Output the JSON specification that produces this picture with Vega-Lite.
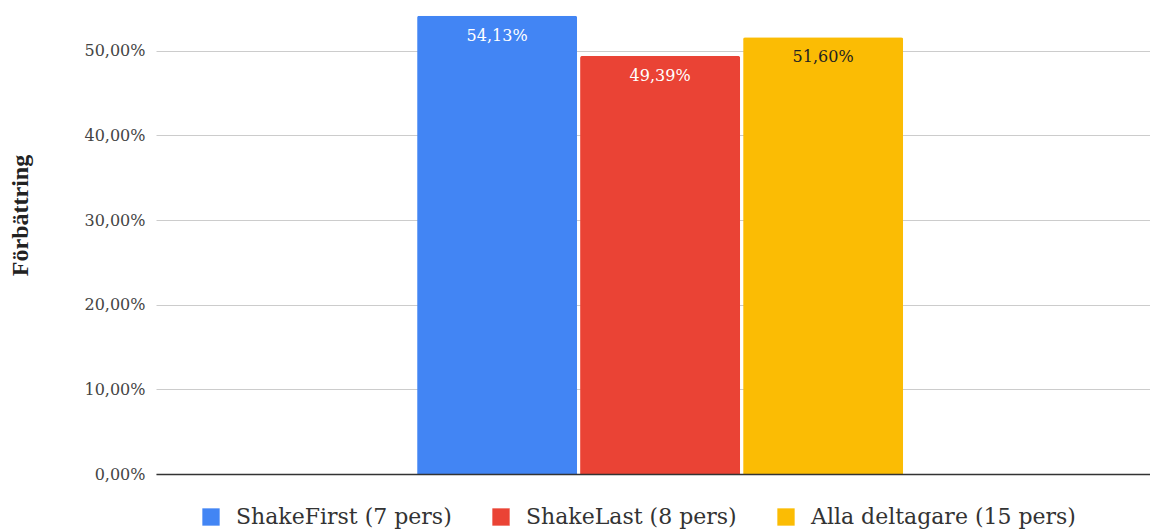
{
  "$schema": "https://vega.github.io/schema/vega-lite/v6.json",
  "width": 994,
  "height": 474,
  "autosize": {"type": "none"},
  "padding": {"left": 156, "top": 0, "right": 0, "bottom": 55},
  "background": "white",
  "config": {
    "locale": {
      "number": {"decimal": ",", "thousands": "\u00a0", "grouping": [3], "currency": ["", "\u00a0kr"]}
    },
    "view": {"stroke": null},
    "font": "DejaVu Serif"
  },
  "data": {
    "values": [
      {"kategori": "Förbättring", "grupp": "ShakeFirst (7 pers)", "forbattring": 0.5413},
      {"kategori": "Förbättring", "grupp": "ShakeLast (8 pers)", "forbattring": 0.4939},
      {"kategori": "Förbättring", "grupp": "Alla deltagare (15 pers)", "forbattring": 0.516}
    ]
  },
  "encoding": {
    "x": {
      "field": "kategori",
      "type": "nominal",
      "scale": {"paddingInner": 0, "paddingOuter": 0.5226, "align": 0.514},
      "axis": {"labels": false, "ticks": false, "title": null, "grid": false, "domain": true, "domainColor": "#333333", "domainWidth": 1.5, "zindex": 1}
    },
    "xOffset": {
      "field": "grupp",
      "type": "nominal",
      "sort": ["ShakeFirst (7 pers)", "ShakeLast (8 pers)", "Alla deltagare (15 pers)"],
      "scale": {"paddingInner": 0.0184, "paddingOuter": 0}
    },
    "y": {
      "field": "forbattring",
      "type": "quantitative",
      "scale": {"domain": [0, 0.56], "nice": false},
      "axis": {
        "values": [0, 0.1, 0.2, 0.3, 0.4, 0.5],
        "format": ".2%",
        "labelFont": "DejaVu Serif",
        "labelFontSize": 16,
        "labelColor": "#444444",
        "labelPadding": 11,
        "ticks": false,
        "domain": false,
        "gridColor": "#cccccc",
        "gridWidth": 1,
        "title": "Förbättring",
        "titleFont": "Liberation Serif",
        "titleFontSize": 24,
        "titleFontWeight": "bold",
        "titleColor": "#222222",
        "titleAngle": -90,
        "titleX": -136,
        "titleY": 215,
        "titleAlign": "center",
        "titleBaseline": "middle"
      }
    }
  },
  "layer": [
    {
      "mark": {"type": "bar", "cornerRadiusTopLeft": 2, "cornerRadiusTopRight": 2},
      "encoding": {
        "color": {
          "field": "grupp",
          "type": "nominal",
          "sort": ["ShakeFirst (7 pers)", "ShakeLast (8 pers)", "Alla deltagare (15 pers)"],
          "scale": {
            "domain": ["ShakeFirst (7 pers)", "ShakeLast (8 pers)", "Alla deltagare (15 pers)"],
            "range": ["#4285F4", "#EA4335", "#FBBC04"]
          },
          "legend": {
            "orient": "none",
            "legendX": 44,
            "legendY": 506,
            "direction": "horizontal",
            "title": null,
            "symbolType": "square",
            "symbolSize": 300,
            "symbolStrokeWidth": 0,
            "symbolOpacity": 1,
            "labelFont": "DejaVu Serif",
            "labelFontSize": 22,
            "labelLimit": 600,
            "labelColor": "#333333",
            "labelOffset": 14,
            "columnPadding": 38
          }
        }
      }
    },
    {
      "mark": {"type": "text", "baseline": "middle", "align": "center", "dy": 20, "fontSize": 16, "font": "DejaVu Serif"},
      "encoding": {
        "text": {"field": "forbattring", "type": "quantitative", "format": ".2%"},
        "color": {
          "condition": {"test": "datum.grupp === 'Alla deltagare (15 pers)'", "value": "#222222"},
          "value": "#ffffff"
        }
      }
    }
  ]
}
